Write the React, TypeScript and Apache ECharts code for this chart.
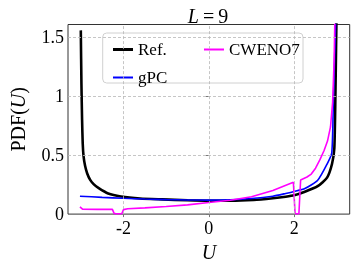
import React, { useEffect, useRef } from "react";
import * as echarts from "echarts";

const xTicks = [-2, 0, 2];
const yTicks = [0, 0.5, 1, 1.5];
const seriesNames = ["Ref.", "gPC", "CWENO7"];

const refU = [-3.0, -2.985, -2.97, -2.955, -2.935, -2.9, -2.85, -2.78, -2.7, -2.58, -2.36, -2.06, -1.61, -1.09, -0.5, 0, 0.5, 1.05, 1.5, 1.8, 2.0, 2.25, 2.55, 2.77, 2.885, 2.94, 2.965, 2.98, 2.995];
const refPdf = [1.56, 1.1, 0.8, 0.6, 0.49, 0.41, 0.345, 0.29, 0.255, 0.22, 0.175, 0.15, 0.133, 0.125, 0.117, 0.113, 0.113, 0.12, 0.135, 0.148, 0.16, 0.19, 0.237, 0.31, 0.425, 0.56, 1.0, 1.4, 1.8];

const gpcU = [-3.02, -2.5, -2.0, -1.5, -1.0, -0.5, 0, 0.5, 1.0, 1.5, 1.8, 2.0, 2.25, 2.55, 2.77, 2.88, 2.92, 2.96, 2.99];
const gpcPdf = [0.152, 0.142, 0.134, 0.128, 0.123, 0.12, 0.119, 0.122, 0.132, 0.152, 0.175, 0.192, 0.217, 0.287, 0.425, 0.52, 1.0, 1.5, 1.8];

const cwU = [-3.02, -2.96, -2.6, -2.26, -2.22, -2.18, -2.04, -2.0, -1.9, -1.5, -1.0, -0.5, 0, 0.5, 1.0, 1.5, 1.98, 2.02, 2.05, 2.11, 2.15, 2.3, 2.4, 2.5, 2.6, 2.7, 2.78, 2.85, 2.9, 2.935, 2.96];
const cwPdf = [0.062, 0.042, 0.04, 0.04, 0.006, 0.003, 0.003, 0.038, 0.045, 0.053, 0.064, 0.078, 0.098, 0.118, 0.148, 0.2, 0.27, 0.005, 0.003, 0.003, 0.29, 0.315, 0.34, 0.39, 0.46, 0.54, 0.62, 0.74, 0.95, 1.3, 1.8];

const pairs = (u: number[], v: number[]) => u.map((x, i) => [x, v[i]]);

export default function App() {
  const ref = useRef<HTMLDivElement>(null);
  useEffect(() => {
    const chart = echarts.init(ref.current!, null, { renderer: "svg" });
    const font = "Liberation Serif";
    const gridStyle = { color: "#b8b8b8", width: 0.8, type: [3, 2] as any };
    const legendText = { fontFamily: font, fontSize: 17, color: "#000" };
    chart.setOption({
      animation: false,
      title: {
        text: "{i|L}{n|\u2009=\u20099}",
        left: 203,
        top: 1,
        textAlign: "center",
        textStyle: {
          fontWeight: "normal",
          rich: {
            i: { fontFamily: font, fontStyle: "italic", fontWeight: "normal", fontSize: 20, color: "#000" },
            n: { fontFamily: font, fontWeight: "normal", fontSize: 20, color: "#000" },
          },
        },
      },
      grid: {
        left: 57,
        right: 4.3,
        top: 24.5,
        bottom: 49.3,
        show: true,
        borderColor: "#333",
        borderWidth: 1,
        backgroundColor: "transparent",
      },
      xAxis: {
        type: "value",
        min: -3.3,
        max: 3.3,
        name: "{i|U}",
        nameLocation: "middle",
        nameGap: 25,
        nameTextStyle: {
          rich: { i: { fontFamily: font, fontStyle: "italic", fontSize: 20, color: "#000" } },
        },
        axisLine: { show: false },
        axisTick: { show: true, customValues: xTicks, length: 3, lineStyle: { color: "#777" } },
        axisLabel: {
          customValues: xTicks,
          margin: 5,
          fontFamily: font,
          fontSize: 18,
          color: "#000",
          formatter: (v: number) => (v < 0 ? "-" + Math.abs(v) : String(v)),
        },
        splitLine: { show: false },
      },
      yAxis: {
        type: "value",
        min: 0,
        max: 1.61,
        name: "PDF({i|U})",
        nameLocation: "middle",
        nameGap: 40,
        nameTextStyle: {
          fontFamily: font,
          fontSize: 20,
          color: "#000",
          rich: { i: { fontFamily: font, fontStyle: "italic", fontSize: 20, color: "#000" } },
        },
        axisLine: { show: false },
        axisTick: { show: true, customValues: yTicks, length: 3, lineStyle: { color: "#777" } },
        axisLabel: {
          customValues: yTicks,
          margin: 4,
          fontFamily: font,
          fontSize: 18,
          color: "#000",
        },
        splitLine: { show: false },
      },
      legend: [
        {
          data: [
            { name: "Ref.", icon: "path://M0,0H20V3H0Z" },
            { name: "gPC", icon: "path://M0,0H20V2H0Z" },
          ],
          orient: "vertical",
          left: 108,
          top: 36,
          itemWidth: 20,
          itemHeight: 14,
          itemGap: 11,
          textStyle: legendText,
        },
        {
          data: [{ name: "CWENO7", icon: "path://M0,0H20V2H0Z" }],
          orient: "vertical",
          left: 199,
          top: 36,
          itemWidth: 20,
          itemHeight: 14,
          textStyle: legendText,
        },
      ],
      graphic: [
        {
          type: "rect",
          z: 3,
          shape: { x: 102.7, y: 33, width: 200.3, height: 50, r: 4 },
          style: { fill: "rgba(255,255,255,0.85)", stroke: "#d0d0d0", lineWidth: 1 },
        },
      ],
      series: [
        {
          type: "line",
          name: "__grid",
          data: [[0, -1]],
          symbol: "none",
          silent: true,
          z: 1,
          lineStyle: { width: 0 },
          markLine: {
            silent: true,
            symbol: "none",
            label: { show: false },
            lineStyle: gridStyle,
            data: [
              ...xTicks.map((x) => ({ xAxis: x })),
              ...yTicks.filter((y) => y > 0).map((y) => ({ yAxis: y })),
            ],
          },
        },
        {
          type: "line",
          name: seriesNames[0],
          data: pairs(refU, refPdf),
          symbol: "none",
          smooth: 0.2,
          color: "#000",
          lineStyle: { color: "#000", width: 2.6 },
          z: 2,
        },
        {
          type: "line",
          name: seriesNames[1],
          data: pairs(gpcU, gpcPdf),
          symbol: "none",
          smooth: 0.2,
          color: "#0000ff",
          lineStyle: { color: "#0000ff", width: 1.6 },
          z: 2,
        },
        {
          type: "line",
          name: seriesNames[2],
          data: pairs(cwU, cwPdf),
          symbol: "none",
          color: "#ff00ff",
          lineStyle: { color: "#ff00ff", width: 1.6 },
          z: 2,
        },
      ],
    });
    return () => chart.dispose();
  }, []);
  return <div ref={ref} style={{ position: "fixed", left: 0, top: 0, width: 354, height: 267 }} />;
}
